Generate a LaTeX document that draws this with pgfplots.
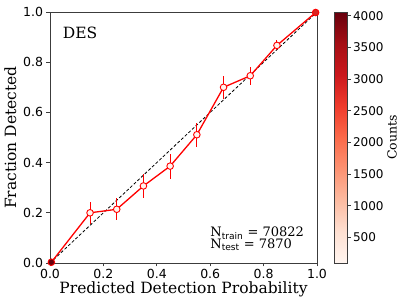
\documentclass[border=0pt]{standalone}
\usepackage{fontspec}
\setmainfont{DejaVu Serif}
\setsansfont{DejaVu Sans}
\usepackage{pgfplots}
\usepackage{pgfplotstable}
\pgfplotsset{compat=1.18}
\definecolor{spine}{RGB}{60,60,60}
\pgfplotsset{colormap={Reds}{rgb255=(255,245,240) rgb255=(254,224,210) rgb255=(252,187,161) rgb255=(252,146,114) rgb255=(251,106,74) rgb255=(239,59,44) rgb255=(203,24,29) rgb255=(165,15,21) rgb255=(103,0,13)}}
\pgfplotstableread{
x y e c
0.005 0.003 0 4058
0.15 0.200 0.045 130
0.25 0.214 0.043 110
0.35 0.307 0.047 98
0.45 0.386 0.050 105
0.55 0.511 0.047 100
0.65 0.700 0.046 110
0.75 0.746 0.036 120
0.85 0.867 0.020 150
0.995 0.998 0 2889
}\caltable
\begin{document}
\begin{tikzpicture}
\begin{axis}[
  at={(0,0)}, anchor=south west,
  scale only axis, width=267pt, height=251pt,
  xmin=0, xmax=1, ymin=0, ymax=1,
  xtick={0,0.2,0.4,0.6,0.8,1.0},
  ytick={0,0.2,0.4,0.6,0.8,1.0},
  xtick pos=bottom, ytick pos=left,
  tick align=outside,
  major tick length=3.5pt,
  axis line style={spine, line width=0.9pt},
  tick style={spine, line width=0.8pt},
  /pgf/number format/.cd, fixed, fixed zerofill, precision=1, assume math mode=true,
  /pgfplots/.cd,
  ticklabel style={font=\sffamily\fontsize{12.5}{14}\selectfont},
  xticklabel style={yshift=1pt},
  xlabel={Predicted Detection Probability},
  ylabel={Fraction Detected},
  label style={font=\fontsize{15.5}{17}\selectfont},
  xlabel style={yshift=4pt},
  ylabel style={yshift=0pt},
  clip=false,
  colormap name=Reds,
  point meta min=98, point meta max=4058,
  colorbar right,
  colorbar shift/.style={xshift=17pt},
  colorbar style={
    at={(parent axis.north east)}, anchor=north west,
    width=13pt,
    ytick={500,1000,1500,2000,2500,3000,3500,4000},
    /pgf/number format/1000 sep={},
    /pgf/number format/assume math mode=true,
    yticklabel style={font=\sffamily\fontsize{12}{13}\selectfont, xshift=-1pt},
    ytick pos=right, tick align=outside,
    major tick length=3.5pt,
    axis line style={spine, line width=0.8pt},
    tick style={spine, line width=0.8pt},
    ylabel={Counts},
    ylabel style={font=\fontsize{12.5}{14}\selectfont, yshift=3pt},
  },
]
\addplot[black, dashed, line width=0.8pt, dash pattern=on 3pt off 2pt] coordinates {(0,0) (1,1)};
\addplot[red, line width=1.3pt, mark=*, mark size=3.3pt,
  scatter, scatter src=explicit,
  scatter/use mapped color={draw=red, fill=mapped color},
  mark options={line width=0.9pt},
  error bars/.cd, y dir=both, y explicit,
  error bar style={red, line width=1pt}, error mark=none]
  table[x=x, y=y, y error=e, meta=c] {\caltable};
\node[anchor=west, font=\fontsize{15.5}{17}\selectfont] at (axis cs:0.035,0.915) {DES};
\node[anchor=west, font=\fontsize{13}{14}\selectfont, align=left, inner sep=0pt] at (axis cs:0.60,0.096)
  {N\textsubscript{\sffamily train} = 70822\\[-2.5pt]N\textsubscript{\sffamily test} = 7870};
\end{axis}
\pgfresetboundingbox
\path[use as bounding box] (-50pt,-42pt) rectangle (357pt,263pt);
\end{tikzpicture}
\end{document}
